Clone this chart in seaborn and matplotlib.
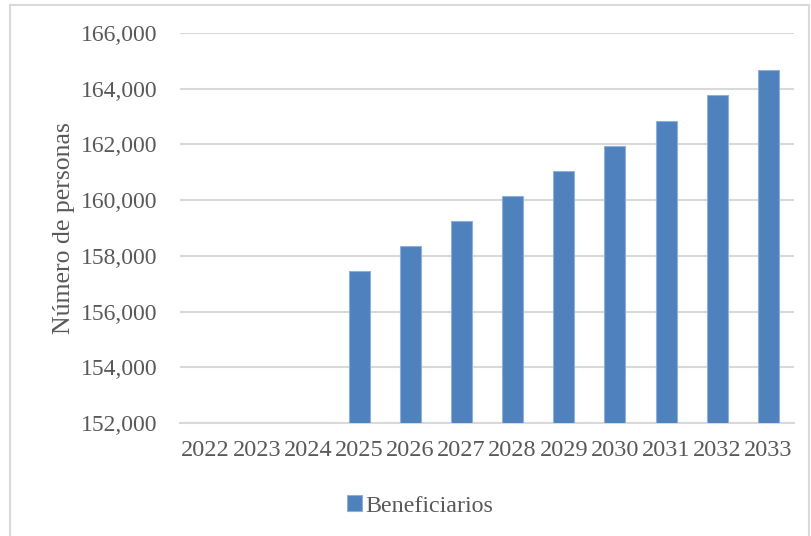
import numpy as np
import pandas as pd
import seaborn as sns
import matplotlib.pyplot as plt
from matplotlib.patches import Rectangle
from matplotlib.ticker import FuncFormatter

# Beneficiaries per year (no data for 2022-2024)
years = ["2022", "2023", "2024", "2025", "2026", "2027",
         "2028", "2029", "2030", "2031", "2032", "2033"]
beneficiarios = [np.nan, np.nan, np.nan, 157470, 158355, 159240,
                 160135, 161030, 161940, 162845, 163765, 164675]
series_name = "Beneficiarios"
y_label = "Número de personas"
y_ticks = [152000, 154000, 156000, 158000, 160000, 162000, 164000, 166000]

df = pd.DataFrame({"year": years, "value": beneficiarios})

sns.set_theme(style="white")
plt.rcParams["font.family"] = ["Liberation Serif", "DejaVu Serif"]

text_color = "#595959"
grid_color = "#D9D9D9"
bar_color = "#4F81BD"

fig = plt.figure(figsize=(8.11, 5.36), dpi=100)
ax = fig.add_axes([0.222, 0.2108, 0.757, 0.7276])

sns.barplot(data=df, x="year", y="value", color=bar_color, width=0.41,
            saturation=1, edgecolor="#8EB0DA", linewidth=0.8,
            label=series_name, ax=ax, zorder=3)

ax.set_ylim(152000, 166000)
ax.set_yticks(y_ticks)
ax.yaxis.set_major_formatter(FuncFormatter(lambda v, p: f"{int(v):,}"))
ax.set_xlim(-0.5, len(years) - 0.5)

ax.grid(axis="y", color=grid_color, linewidth=1.5, zorder=0)
ax.grid(axis="x", visible=False)
for side in ["top", "right", "left"]:
    ax.spines[side].set_visible(False)
ax.spines["bottom"].set_color(grid_color)
ax.spines["bottom"].set_linewidth(1.5)

ax.tick_params(axis="y", length=0, pad=16, labelsize=17, labelcolor=text_color)
ax.tick_params(axis="x", length=0, pad=12, labelsize=17.5, labelcolor=text_color)

ax.set_xlabel("")
ax.set_ylabel(y_label, fontsize=18.5, color=text_color)
ax.yaxis.set_label_coords(-0.171, 0.5)

if ax.legend_:
    ax.legend_.remove()
handles, labels = ax.get_legend_handles_labels()
fig.legend(handles, labels, loc="center", bbox_to_anchor=(0.518, 0.056),
           frameon=False, fontsize=17.3, labelcolor=text_color,
           handlelength=0.6, handleheight=0.6, handletextpad=0.15)

# Chart area border
fig.patches.append(Rectangle((9.5 / 811, -0.05), (809 - 9.5) / 811, 1.05 - 5 / 536,
                             transform=fig.transFigure, fill=False,
                             edgecolor="#D9D9D9", linewidth=1.5))

fig.savefig("out.png", dpi=100, facecolor="white")
